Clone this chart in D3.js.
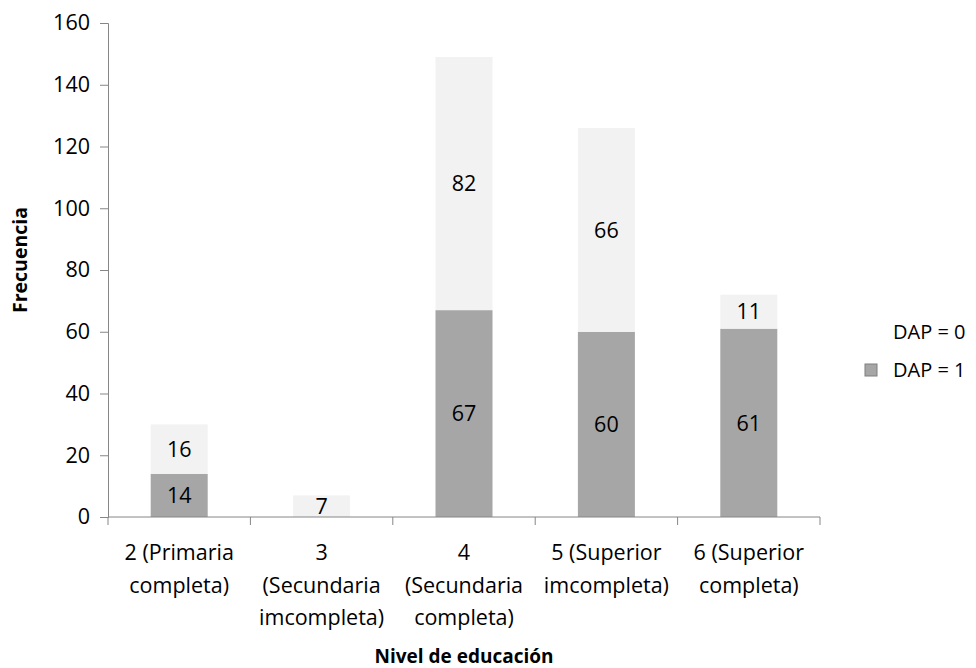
<!DOCTYPE html>
<html>
<head>
<meta charset="utf-8">
<script src="https://cdn.jsdelivr.net/npm/d3@7"></script>
<style>
  html, body { margin: 0; padding: 0; background: #fff; }
  svg text { font-family: "Open Sans", Lato, sans-serif; fill: #000; }
</style>
</head>
<body>
<svg id="chart" width="976" height="668"></svg>
<script>
// Education level categories (multi-line labels)
const categories = ["2", "3", "4", "5", "6"];
const categoryLabels = [
  ["2 (Primaria", "completa)"],
  ["3", "(Secundaria", "imcompleta)"],
  ["4", "(Secundaria", "completa)"],
  ["5 (Superior", "imcompleta)"],
  ["6 (Superior", "completa)"]
];
const dap1 = [14, 0, 67, 60, 61];
const dap0 = [16, 7, 82, 66, 11];
const seriesNames = ["DAP = 1", "DAP = 0"];
const yTicks = [0, 20, 40, 60, 80, 100, 120, 140, 160];

const colors = { "DAP = 1": "#a6a6a6", "DAP = 0": "#f2f2f2" };

const svg = d3.select("#chart");
const margin = { left: 108, right: 156, top: 23, bottom: 151 };
const W = 976, H = 668;
const labelSize = "21.5px";

const xb = d3.scaleBand().domain(categories).range([margin.left, W - margin.right]);
const y = d3.scaleLinear().domain([0, 160]).range([H - margin.bottom, margin.top]);
const barW = 57;

const rows = categories.map((c, i) => ({ cat: c, "DAP = 1": dap1[i], "DAP = 0": dap0[i] }));
const stacked = d3.stack().keys(seriesNames)(rows);

// Stacked bars with value labels centred in each segment
const g = svg.append("g");
stacked.forEach(layer => {
  const key = layer.key;
  g.selectAll(null).data(layer).join("rect")
    .attr("x", d => xb(d.data.cat) + (xb.bandwidth() - barW) / 2)
    .attr("width", barW)
    .attr("y", d => y(d[1]))
    .attr("height", d => y(d[0]) - y(d[1]))
    .attr("fill", colors[key]);
  g.selectAll(null).data(layer.filter(d => d.data[key] > 0)).join("text")
    .attr("x", d => xb(d.data.cat) + xb.bandwidth() / 2)
    .attr("y", d => (y(d[0]) + y(d[1])) / 2)
    .attr("dy", "0.36em")
    .attr("text-anchor", "middle")
    .style("font-size", labelSize)
    .text(d => d.data[key]);
});

// Y axis
const yAxis = svg.append("g").attr("transform", `translate(${margin.left},0)`)
  .call(d3.axisLeft(y).tickValues(yTicks).tickSize(8).tickPadding(10));
yAxis.select(".domain").attr("stroke", "#868686");
yAxis.selectAll(".tick line").attr("stroke", "#868686");
yAxis.selectAll(".tick text").style("font-size", labelSize).attr("fill", "#000");

// X axis with ticks at band boundaries
const xAxisG = svg.append("g").attr("transform", `translate(0,${y(0)})`);
xAxisG.append("line")
  .attr("x1", margin.left).attr("x2", W - margin.right)
  .attr("stroke", "#868686");
const bounds = categories.map(c => xb(c)).concat([xb(categories[categories.length - 1]) + xb.bandwidth()]);
xAxisG.selectAll(null).data(bounds).join("line")
  .attr("x1", d => d).attr("x2", d => d)
  .attr("y1", 0).attr("y2", 8)
  .attr("stroke", "#868686");

// Category labels
categories.forEach((c, i) => {
  const cx = xb(c) + xb.bandwidth() / 2;
  const t = svg.append("text")
    .attr("x", cx)
    .attr("y", y(0) + 43)
    .attr("text-anchor", "middle")
    .style("font-size", labelSize);
  categoryLabels[i].forEach((line, j) => {
    t.append("tspan").attr("x", cx).attr("dy", j === 0 ? 0 : 32.5).text(line);
  });
});

// Axis titles
svg.append("text")
  .attr("x", xb(categories[2]) + xb.bandwidth() / 2)
  .attr("y", 663)
  .attr("text-anchor", "middle")
  .style("font-size", "19px").style("font-weight", "bold")
  .text("Nivel de educación");

svg.append("text")
  .attr("transform", `translate(27,260) rotate(-90)`)
  .attr("text-anchor", "middle")
  .style("font-size", "19.5px").style("font-weight", "bold")
  .text("Frecuencia");

// Legend (top series listed first)
const legend = svg.append("g");
["DAP = 0", "DAP = 1"].forEach((name, i) => {
  const ly = 332 + i * 38;
  legend.append("rect")
    .attr("x", 865).attr("y", ly - 6).attr("width", 12).attr("height", 12)
    .attr("fill", name === "DAP = 1" ? colors[name] : "#ffffff")
    .attr("stroke", name === "DAP = 1" ? "#7f7f7f" : "none");
  legend.append("text")
    .attr("x", 893).attr("y", ly).attr("dy", "0.36em")
    .style("font-size", "20px")
    .text(name);
});
</script>
</body>
</html>
